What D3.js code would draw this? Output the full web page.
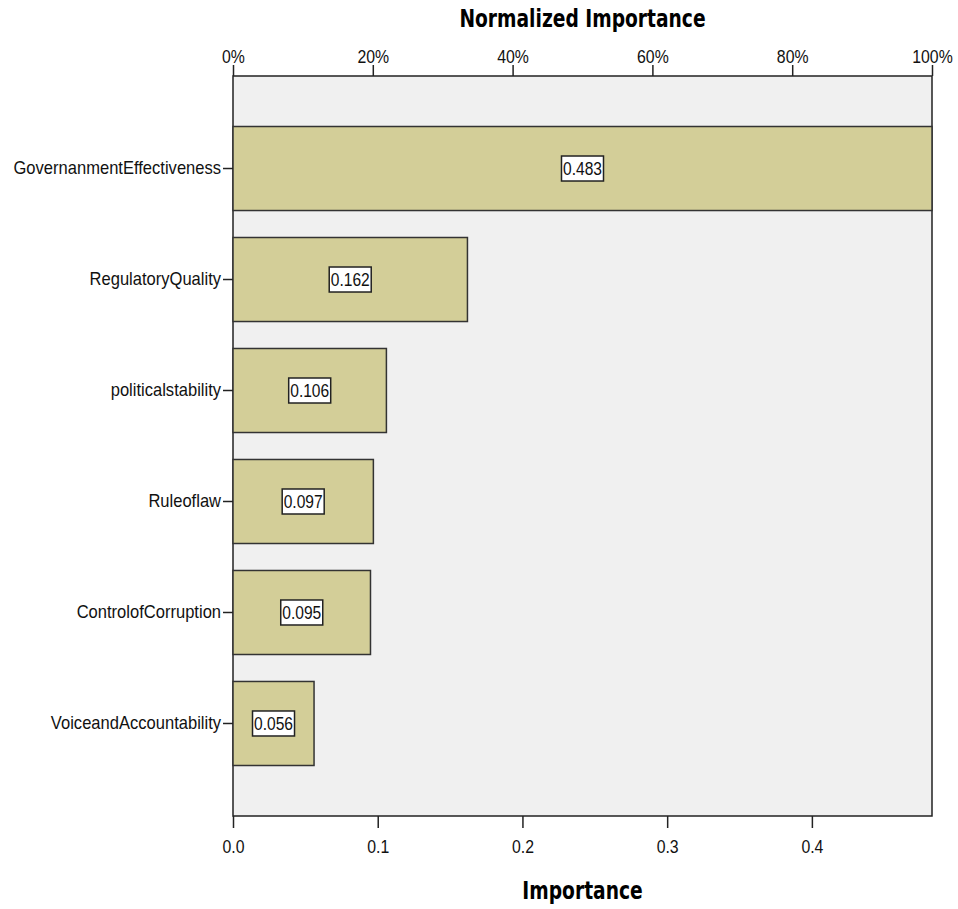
<!DOCTYPE html>
<html>
<head>
<meta charset="utf-8">
<script src="https://cdn.jsdelivr.net/npm/d3@7"></script>
<style>
  body { margin: 0; background: #fff; }
  text { font-family: "Liberation Sans", Arial, sans-serif; }
  .ttl { font-family: "DejaVu Sans Condensed", "DejaVu Sans", sans-serif; font-weight: bold; }
</style>
</head>
<body>
<div id="chart"></div>
<script>
// data
const predictors = ["GovernanmentEffectiveness", "RegulatoryQuality", "politicalstability",
                    "Ruleoflaw", "ControlofCorruption", "VoiceandAccountability"];
const importance = [0.483, 0.162, 0.106, 0.097, 0.095, 0.056];
const bottomTicks = [0, 0.1, 0.2, 0.3, 0.4];
const topTicks = [0, 20, 40, 60, 80, 100];

const data = predictors.map((p, i) => ({name: p, value: importance[i]}));
const maxImp = d3.max(importance);

// set the dimensions and margins
const margin = {top: 76, right: 26, bottom: 93, left: 233},
    width = 958 - margin.left - margin.right,
    height = 909 - margin.top - margin.bottom;

const svg = d3.select("#chart")
  .append("svg")
    .attr("width", 958)
    .attr("height", 909)
  .append("g")
    .attr("transform", `translate(${margin.left},${margin.top})`);

// scales
const x = d3.scaleLinear().domain([0, maxImp]).range([0, width]);
const xPct = d3.scaleLinear().domain([0, 100]).range([0, width]);
const y = d3.scaleBand()
  .domain(predictors)
  .range([0, height])
  .paddingInner(0.243)
  .paddingOuter(0.455);

// plot background
svg.append("rect")
  .attr("width", width)
  .attr("height", height)
  .attr("fill", "#f0f0f0")
  .attr("stroke", "#222")
  .attr("stroke-width", 1.5);

// bars
svg.selectAll("rect.bar")
  .data(data)
  .join("rect")
    .attr("class", "bar")
    .attr("x", 0)
    .attr("y", d => y(d.name))
    .attr("width", d => x(d.value))
    .attr("height", y.bandwidth())
    .attr("fill", "#d3ce98")
    .attr("stroke", "#333")
    .attr("stroke-width", 1.5);

// value labels in boxes
const lab = svg.selectAll("g.lab")
  .data(data)
  .join("g")
    .attr("class", "lab")
    .attr("transform", d => `translate(${x(d.value) / 2},${y(d.name) + y.bandwidth() / 2})`);
lab.append("rect")
  .attr("x", -21)
  .attr("y", -12.5)
  .attr("width", 42)
  .attr("height", 25)
  .attr("fill", "#fff")
  .attr("stroke", "#222")
  .attr("stroke-width", 1.5);
lab.append("text")
  .attr("text-anchor", "middle")
  .attr("dy", "0.36em")
  .attr("transform", "scale(0.82,1)")
  .style("font-size", "19px")
  .attr("fill", "#111")
  .text(d => d.value.toFixed(3));

// the original text is squeezed sideways a bit
function styleAxis(squeeze) {
  return g => {
    g.select(".domain").remove();
    g.selectAll("line").attr("stroke", "#222").attr("stroke-width", 1.5);
    g.selectAll("text")
      .style("font-size", "18px")
      .attr("fill", "#111")
      .attr("transform", `scale(${squeeze},1)`);
  };
}

// left axis
svg.append("g")
  .call(d3.axisLeft(y).tickSize(10).tickSizeOuter(0).tickPadding(3))
  .call(styleAxis(0.92));

// bottom axis
svg.append("g")
  .attr("transform", `translate(0,${height})`)
  .call(d3.axisBottom(x).tickValues(bottomTicks).tickFormat(d3.format(".1f"))
    .tickSize(12).tickSizeOuter(0).tickPadding(12))
  .call(styleAxis(0.88));

// top axis (normalized importance)
svg.append("g")
  .call(d3.axisTop(xPct).tickValues(topTicks).tickFormat(d => d + "%")
    .tickSize(11).tickSizeOuter(0).tickPadding(2))
  .call(styleAxis(0.88));

// titles
svg.append("text")
  .attr("class", "ttl")
  .attr("transform", `translate(${width / 2},-49) scale(0.83,1)`)
  .attr("text-anchor", "middle")
  .style("font-size", "25px")
  .attr("fill", "#000")
  .text("Normalized Importance");

svg.append("text")
  .attr("class", "ttl")
  .attr("transform", `translate(${width / 2},${height + 83}) scale(0.83,1)`)
  .attr("text-anchor", "middle")
  .style("font-size", "25px")
  .attr("fill", "#000")
  .text("Importance");
</script>
</body>
</html>
